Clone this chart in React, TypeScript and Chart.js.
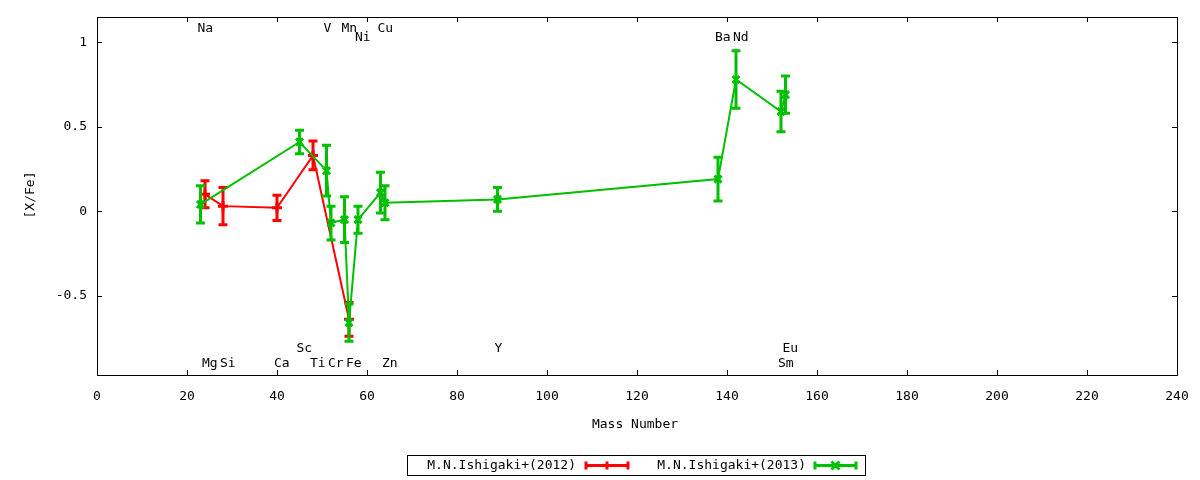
import React, { useEffect, useRef } from 'react';
import { Chart, registerables } from 'chart.js';

Chart.register(...registerables);

// M.N.Ishigaki+(2012)
const mass2012 = [24, 28, 40, 48, 56];
const xfe2012 = [0.1, 0.03, 0.02, 0.33, -0.64];
const err2012 = [0.08, 0.11, 0.075, 0.085, 0.1];

// M.N.Ishigaki+(2013)
const mass2013 = [23, 45, 51, 52, 55, 56, 58, 63, 64, 89, 138, 142, 152, 153];
const xfe2013 = [0.04, 0.41, 0.24, -0.07, -0.05, -0.66, -0.05, 0.11, 0.05, 0.07, 0.19, 0.78, 0.59, 0.69];
const err2013 = [0.11, 0.07, 0.15, 0.1, 0.135, 0.11, 0.08, 0.12, 0.1, 0.07, 0.13, 0.17, 0.12, 0.11];

// element labels
const elemNames = ['Na', 'Mg', 'Si', 'Ca', 'Sc', 'Ti', 'V', 'Cr', 'Mn', 'Fe', 'Ni', 'Cu', 'Zn', 'Y', 'Ba', 'Nd', 'Sm', 'Eu'];
const elemMass = [23, 24, 28, 40, 45, 48, 51, 52, 55, 56, 58, 63, 64, 89, 138, 142, 152, 153];
const elemLabelY = [1.08, -0.9, -0.9, -0.9, -0.815, -0.9, 1.08, -0.9, 1.08, -0.9, 1.03, 1.08, -0.9, -0.815, 1.03, 1.03, -0.9, -0.815];

const xTicks = [0, 20, 40, 60, 80, 100, 120, 140, 160, 180, 200, 220, 240];
const yTicks = [-0.5, 0, 0.5, 1];

const seriesNames = ['M.N.Ishigaki+(2012)', 'M.N.Ishigaki+(2013)'];
const RED = '#ff0000';
const GREEN = '#00c000';
const FONT = '"DejaVu Sans Mono", monospace';

const errors = [err2012, err2013];

const gnuplotLook = {
  id: 'gnuplotLook',
  afterDatasetDraw(chart: any, args: any) {
    const ctx = chart.ctx;
    const ys = chart.scales.y;
    const errs = errors[args.index];
    const color = args.index === 0 ? RED : GREEN;
    ctx.save();
    ctx.strokeStyle = color;
    ctx.lineWidth = 3;
    args.meta.data.forEach((pt: any, i: number) => {
      const v = chart.data.datasets[args.index].data[i].y;
      const top = ys.getPixelForValue(v + errs[i]);
      const bot = ys.getPixelForValue(v - errs[i]);
      ctx.beginPath();
      ctx.moveTo(pt.x, top);
      ctx.lineTo(pt.x, bot);
      ctx.moveTo(pt.x - 4.5, top);
      ctx.lineTo(pt.x + 4.5, top);
      ctx.moveTo(pt.x - 4.5, bot);
      ctx.lineTo(pt.x + 4.5, bot);
      ctx.stroke();
    });
    ctx.restore();
  },
  afterDraw(chart: any) {
    const ctx = chart.ctx;
    const { left, right, top, bottom } = chart.chartArea;
    const xs = chart.scales.x;
    const ys = chart.scales.y;
    ctx.save();
    // frame
    ctx.strokeStyle = '#000';
    ctx.lineWidth = 1;
    ctx.strokeRect(Math.round(left) + 0.5, Math.round(top) + 0.5, Math.round(right - left), Math.round(bottom - top));
    // inward ticks, mirrored
    ctx.beginPath();
    xTicks.forEach((t) => {
      const px = Math.round(xs.getPixelForValue(t)) + 0.5;
      ctx.moveTo(px, bottom);
      ctx.lineTo(px, bottom - 5);
      ctx.moveTo(px, top);
      ctx.lineTo(px, top + 5);
    });
    yTicks.forEach((t) => {
      const py = Math.round(ys.getPixelForValue(t)) + 0.5;
      ctx.moveTo(left, py);
      ctx.lineTo(left + 5, py);
      ctx.moveTo(right, py);
      ctx.lineTo(right - 5, py);
    });
    ctx.stroke();

    ctx.fillStyle = '#000';
    ctx.font = '13px ' + FONT;
    // element labels
    ctx.textAlign = 'left';
    ctx.textBaseline = 'middle';
    elemNames.forEach((n, i) => {
      ctx.fillText(n, xs.getPixelForValue(elemMass[i]) - 3, ys.getPixelForValue(elemLabelY[i]));
    });

    // axis titles
    ctx.textAlign = 'center';
    ctx.fillText('Mass Number', (left + right) / 2 - 2, 425);
    ctx.save();
    ctx.translate(31, 195);
    ctx.rotate(-Math.PI / 2);
    ctx.fillText('[X/Fe]', 0, 0);
    ctx.restore();

    // key
    ctx.strokeRect(407.5, 455.5, 458, 20);
    ctx.textAlign = 'right';
    ctx.fillText(seriesNames[0], 576, 465.5);
    ctx.fillText(seriesNames[1], 806, 465.5);
    const sample = (x0: number, x1: number, color: string, rot: boolean) => {
      const y = 465.5;
      ctx.strokeStyle = color;
      ctx.lineWidth = 3;
      ctx.beginPath();
      ctx.moveTo(x0, y);
      ctx.lineTo(x1, y);
      ctx.moveTo(x0, y - 4);
      ctx.lineTo(x0, y + 4);
      ctx.moveTo(x1, y - 4);
      ctx.lineTo(x1, y + 4);
      const m = (x0 + x1) / 2;
      if (rot) {
        ctx.moveTo(m - 4, y - 4);
        ctx.lineTo(m + 4, y + 4);
        ctx.moveTo(m - 4, y + 4);
        ctx.lineTo(m + 4, y - 4);
      } else {
        ctx.moveTo(m, y - 4);
        ctx.lineTo(m, y + 4);
      }
      ctx.stroke();
    };
    sample(586, 628, RED, false);
    sample(815, 856, GREEN, true);
    ctx.restore();
  },
};

const App: React.FC = () => {
  const canvasRef = useRef<HTMLCanvasElement | null>(null);

  useEffect(() => {
    if (!canvasRef.current) return;
    const chart = new Chart(canvasRef.current, {
      type: 'line',
      data: {
        datasets: [
          {
            label: seriesNames[0],
            data: mass2012.map((m, i) => ({ x: m, y: xfe2012[i] })),
            borderColor: RED,
            backgroundColor: RED,
            borderWidth: 2,
            pointStyle: 'cross',
            pointRadius: 5,
            pointBorderWidth: 3,
            order: 1,
          },
          {
            label: seriesNames[1],
            data: mass2013.map((m, i) => ({ x: m, y: xfe2013[i] })),
            borderColor: GREEN,
            backgroundColor: GREEN,
            borderWidth: 2,
            pointStyle: 'crossRot',
            pointRadius: 5,
            pointBorderWidth: 3,
            order: 0,
          },
        ],
      },
      options: {
        animation: false,
        responsive: true,
        maintainAspectRatio: false,
        devicePixelRatio: 1,
        layout: { padding: { top: 17, right: 23, left: 0, bottom: 0 } },
        plugins: { legend: { display: false }, tooltip: { enabled: false } },
        elements: { line: { tension: 0 } },
        scales: {
          x: {
            type: 'linear',
            min: 0,
            max: 240,
            grid: { display: false, drawTicks: false },
            border: { display: false },
            afterBuildTicks: (axis: any) => {
              axis.ticks = xTicks.map((v) => ({ value: v }));
            },
            afterFit: (axis: any) => {
              axis.height = 105;
              axis.paddingLeft = 0;
              axis.paddingRight = 0;
            },
            ticks: {
              color: '#000',
              font: { family: FONT, size: 13 },
              padding: 14,
              maxRotation: 0,
              callback: (v: any) => String(v),
            },
          },
          y: {
            type: 'linear',
            min: -0.97,
            max: 1.15,
            grid: { display: false, drawTicks: false },
            border: { display: false },
            afterBuildTicks: (axis: any) => {
              axis.ticks = yTicks.map((v) => ({ value: v }));
            },
            afterFit: (axis: any) => {
              axis.width = 97;
              axis.paddingTop = 0;
              axis.paddingBottom = 0;
            },
            ticks: {
              color: '#000',
              font: { family: FONT, size: 13 },
              padding: 10,
              callback: (v: any) => String(v),
            },
          },
        },
      },
      plugins: [gnuplotLook],
    });
    return () => chart.destroy();
  }, []);

  return (
    <div style={{ position: 'fixed', left: 0, top: 0, width: 1200, height: 480, background: '#fff' }}>
      <canvas ref={canvasRef} />
    </div>
  );
};

export default App;
